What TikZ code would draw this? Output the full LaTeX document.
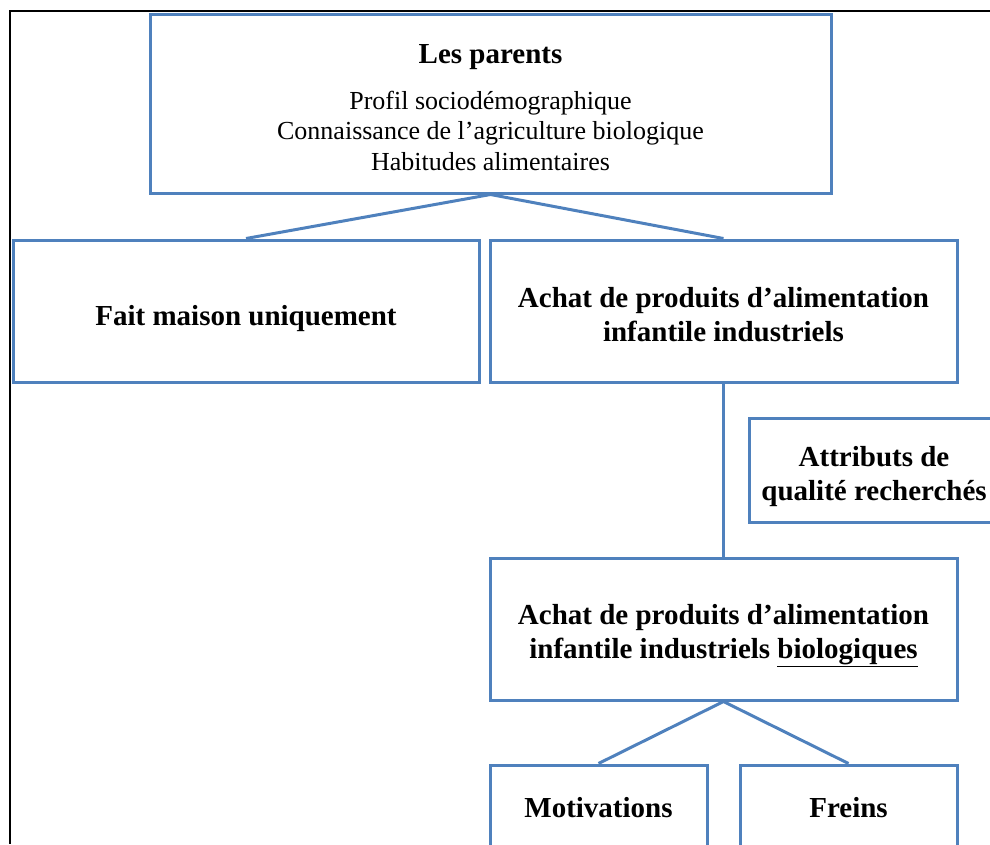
\documentclass[tikz,border=0pt]{standalone}
\usepackage{fontspec}
\setmainfont{Liberation Serif}
\usetikzlibrary{positioning}
\definecolor{boxblue}{RGB}{79,129,189}

\begin{document}
\begin{tikzpicture}[
    x=1pt, y=-1pt,
    box/.style={rectangle, draw=boxblue, line width=3pt, align=center, inner sep=0pt, font=\fontsize{29}{34}\selectfont\bfseries},
    wide/.style={box, minimum width=467pt, minimum height=142pt},
    small/.style={box, minimum width=217pt, minimum height=86pt},
    lift/.style={execute at begin node={\rule{0pt}{#1}}},
    link/.style={draw=boxblue, line width=3pt}
]
\useasboundingbox (0,0) rectangle (990,844);

% Frame
\draw[line width=2.5pt] (990,11) -- (10,11) -- (10,844);

% Parents
\node[box, lift=134pt, minimum width=681pt, minimum height=179pt, font=\fontsize{26}{30.5}\selectfont] (parents) at (490.5,103.5)
    {{\fontsize{29}{34}\selectfont\bfseries Les parents}\\[15pt]
     Profil sociodémographique\\
     Connaissance de l’agriculture biologique\\
     Habitudes alimentaires};

% Purchase choice
\node[wide, lift=36pt, minimum width=466pt] (maison) at (246,311) {Fait maison uniquement};
\node[wide, lift=62pt] (achat) at (723.5,311) {Achat de produits d’alimentation\\infantile industriels};

% Quality attributes
\node[box, lift=68pt, minimum width=250pt, minimum height=104pt] (attributs) at (874,470) {Attributs de\\qualité recherchés};

% Organic purchase
\node[wide, lift=68pt] (bio) at (723.5,629) {Achat de produits d’alimentation\\infantile industriels \underline{biologiques}};

% Motivations and brakes
\node[small] (motiv) at (598.5,808) {Motivations};
\node[small] (freins) at (848.5,808) {Freins};

% Links
\draw[link] (maison.north) -- (parents.south) -- (achat.north);
\draw[link] (achat) -- (bio);
\draw[link] (motiv.north) -- (bio.south) -- (freins.north);

\end{tikzpicture}
\end{document}
